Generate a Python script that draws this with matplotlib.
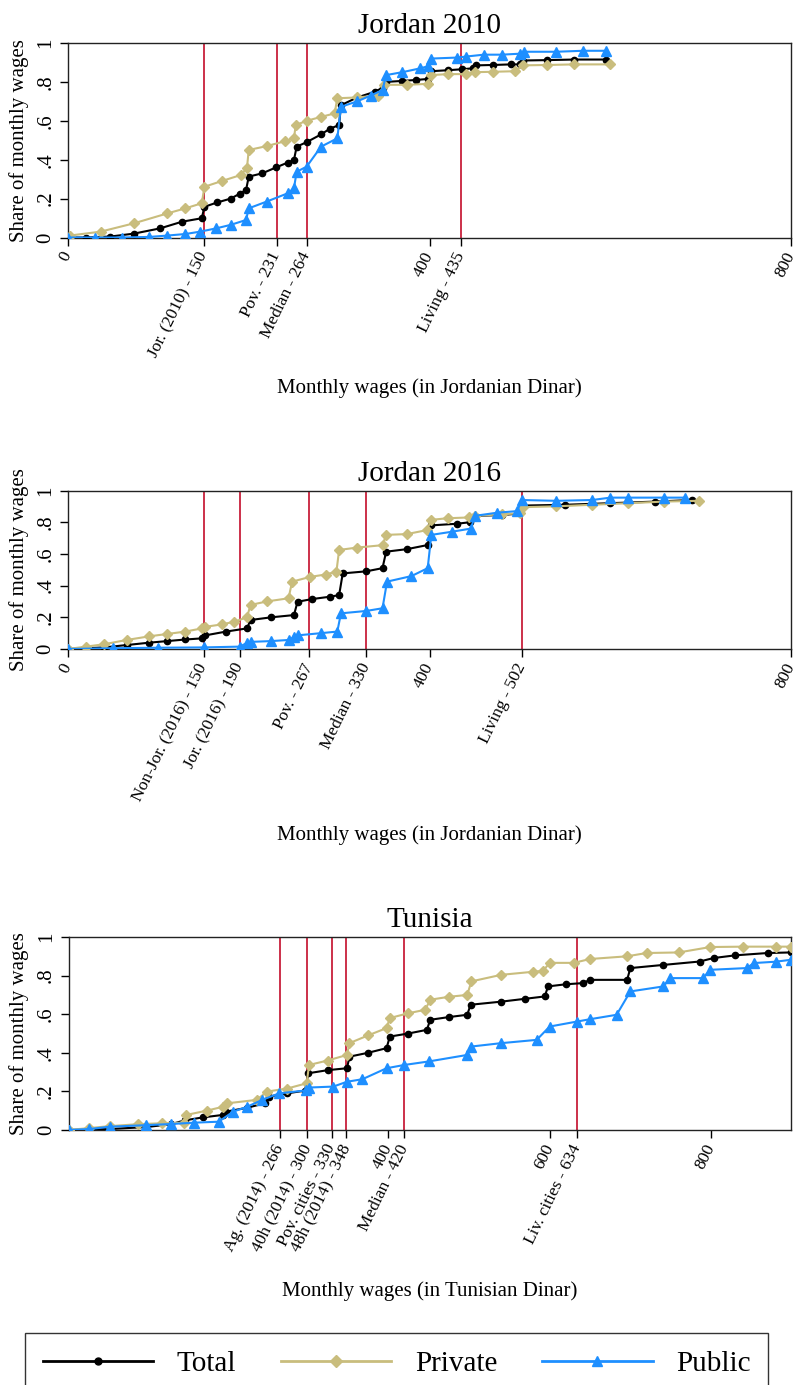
import matplotlib
matplotlib.use("Agg")
import matplotlib.pyplot as plt
from matplotlib.lines import Line2D

plt.rcParams["font.family"] = ["Liberation Serif", "DejaVu Serif"]

# ---------------- data ----------------
# Jordan 2010
j10_tot_w = [0, 20, 47, 73, 102, 126, 148, 151, 165, 180, 190, 197, 200, 215, 230, 243, 250,
             253, 264, 280, 290, 300, 302, 320, 340, 348, 352, 370, 385, 398, 402, 420, 436,
             448, 452, 470, 490, 500, 503, 530, 560, 595]
j10_tot_s = [0, 0, 0.005, 0.02, 0.047, 0.081, 0.099, 0.158, 0.18, 0.2, 0.225, 0.244, 0.313,
             0.33, 0.36, 0.385, 0.398, 0.467, 0.49, 0.53, 0.56, 0.578, 0.68, 0.72, 0.75, 0.77,
             0.80, 0.805, 0.81, 0.815, 0.855, 0.86, 0.865, 0.87, 0.885, 0.887, 0.89, 0.89,
             0.91, 0.912, 0.915, 0.915]
j10_priv_w = [0, 2, 36, 73, 110, 130, 148, 151, 170, 191, 198, 200, 220, 240, 250, 252, 264,
              280, 295, 298, 320, 343, 350, 375, 398, 402, 420, 440, 450, 470, 495, 503, 530,
              560, 600]
j10_priv_s = [0, 0.01, 0.03, 0.073, 0.124, 0.15, 0.176, 0.261, 0.29, 0.321, 0.357, 0.45,
              0.47, 0.495, 0.51, 0.578, 0.6, 0.62, 0.638, 0.716, 0.72, 0.73, 0.785, 0.785,
              0.79, 0.835, 0.84, 0.84, 0.85, 0.852, 0.855, 0.885, 0.887, 0.89, 0.89]
j10_pub_w = [0, 30, 60, 90, 110, 130, 146, 164, 180, 197, 200, 220, 243, 250, 253, 264, 280,
             298, 302, 320, 335, 348, 352, 370, 390, 398, 402, 430, 440, 460, 480, 500, 505,
             540, 570, 595]
j10_pub_s = [0, 0, 0, 0.003, 0.01, 0.018, 0.03, 0.047, 0.065, 0.09, 0.15, 0.185, 0.227,
             0.253, 0.338, 0.364, 0.467, 0.51, 0.672, 0.7, 0.73, 0.758, 0.835, 0.85, 0.87,
             0.88, 0.92, 0.925, 0.93, 0.94, 0.94, 0.945, 0.955, 0.955, 0.96, 0.96]

# Jordan 2016
j16_tot_w = [0, 40, 65, 90, 110, 130, 148, 152, 175, 198, 202, 225, 250, 254, 270, 290, 300,
             304, 330, 348, 352, 375, 398, 402, 430, 445, 450, 480, 500, 504, 550, 600, 650,
             690]
j16_tot_s = [0, 0.01, 0.025, 0.04, 0.05, 0.06, 0.067, 0.086, 0.11, 0.13, 0.183, 0.2, 0.214,
             0.298, 0.315, 0.33, 0.34, 0.477, 0.49, 0.51, 0.614, 0.63, 0.656, 0.78, 0.79, 0.80,
             0.84, 0.845, 0.855, 0.905, 0.91, 0.92, 0.93, 0.94]
j16_priv_w = [0, 20, 40, 65, 90, 110, 130, 148, 152, 170, 184, 198, 202, 220, 244, 248, 268,
              285, 297, 300, 320, 348, 352, 375, 397, 402, 420, 444, 450, 480, 500, 503, 540,
              580, 620, 660, 698]
j16_priv_s = [0, 0.015, 0.03, 0.057, 0.08, 0.095, 0.11, 0.13, 0.14, 0.155, 0.172, 0.2,
              0.278, 0.3, 0.32, 0.425, 0.455, 0.47, 0.488, 0.625, 0.64, 0.655, 0.72, 0.725,
              0.75, 0.815, 0.825, 0.83, 0.84, 0.85, 0.856, 0.895, 0.9, 0.91, 0.92, 0.93, 0.935]
j16_pub_w = [0, 50, 100, 150, 190, 198, 202, 225, 244, 250, 254, 280, 298, 302, 330, 348,
             353, 380, 398, 402, 425, 446, 450, 475, 497, 502, 540, 580, 600, 620, 660, 683]
j16_pub_s = [0, 0.005, 0.008, 0.01, 0.015, 0.038, 0.045, 0.05, 0.057, 0.075, 0.086, 0.1,
             0.11, 0.225, 0.24, 0.257, 0.425, 0.46, 0.51, 0.72, 0.74, 0.76, 0.84, 0.86, 0.87,
             0.94, 0.935, 0.94, 0.955, 0.955, 0.955, 0.955]

# Tunisia
tun_tot_w = [4, 55, 100, 131, 148, 170, 195, 199, 225, 247, 252, 275, 297, 301, 325, 349,
             352, 375, 398, 402, 425, 448, 452, 475, 498, 502, 540, 570, 594, 598, 620, 641,
             650, 696, 700, 740, 786, 803, 830, 870, 899]
tun_tot_s = [0, 0.005, 0.015, 0.03, 0.05, 0.065, 0.078, 0.095, 0.115, 0.138, 0.173, 0.19,
             0.204, 0.294, 0.31, 0.32, 0.38, 0.40, 0.424, 0.484, 0.50, 0.519, 0.571, 0.585,
             0.597, 0.649, 0.665, 0.68, 0.692, 0.744, 0.755, 0.761, 0.778, 0.778, 0.839, 0.855,
             0.873, 0.891, 0.905, 0.917, 0.92]
tun_priv_w = [4, 30, 55, 90, 120, 147, 150, 175, 196, 200, 237, 250, 275, 299, 302, 325, 349,
              352, 375, 398, 402, 425, 446, 452, 475, 498, 503, 540, 580, 592, 600, 630, 650,
              696, 720, 760, 799, 840, 880, 899]
tun_priv_s = [0, 0.01, 0.02, 0.03, 0.035, 0.038, 0.078, 0.1, 0.121, 0.138, 0.156, 0.199,
              0.215, 0.242, 0.337, 0.36, 0.389, 0.45, 0.49, 0.528, 0.58, 0.605, 0.623, 0.675,
              0.69, 0.70, 0.77, 0.804, 0.82, 0.825, 0.866, 0.866, 0.886, 0.9, 0.917, 0.92,
              0.948, 0.95, 0.95, 0.95]
tun_pub_w = [4, 30, 55, 100, 131, 160, 190, 208, 225, 244, 265, 298, 302, 332, 349, 368, 398,
             420, 450, 498, 502, 540, 584, 600, 634, 650, 683, 700, 741, 749, 790, 799, 844,
             853, 880, 899]
tun_pub_s = [0, 0.005, 0.017, 0.025, 0.031, 0.038, 0.043, 0.095, 0.12, 0.156, 0.19, 0.205,
             0.22, 0.225, 0.25, 0.263, 0.32, 0.337, 0.355, 0.389, 0.432, 0.45, 0.467, 0.536,
             0.562, 0.574, 0.597, 0.718, 0.744, 0.787, 0.787, 0.83, 0.839, 0.865, 0.872, 0.882]

j10_lines = [150, 231, 264, 435]
j10_ticks = [0, 150, 231, 264, 400, 435, 800]
j10_labels = ["0", "Jor. (2010) - 150", "Pov. - 231", "Median - 264", "400",
              "Living - 435", "800"]

j16_lines = [150, 190, 267, 330, 502]
j16_ticks = [0, 150, 190, 267, 330, 400, 502, 800]
j16_labels = ["0", "Non-Jor. (2016) - 150", "Jor. (2016) - 190", "Pov. - 267",
              "Median - 330", "400", "Living - 502", "800"]

tun_lines = [266, 300, 330, 348, 420, 634]
tun_ticks = [266, 300, 330, 348, 400, 420, 600, 634, 800]
tun_labels = ["Ag. (2014) - 266", "40h (2014) - 300", "Pov. cities - 330",
              "48h (2014) - 348", "400", "Median - 420", "600", "Liv. cities - 634", "800"]

# ---------------- style ----------------
W, H = 796, 1385
C_TOT = "black"
C_PRIV = "#C9BD7D"
C_PUB = "#1E8FFF"
C_RED = "#C8203C"

fig = plt.figure(figsize=(W / 100, H / 100), dpi=100)


def add_ax(left, top, right, bottom):
    return fig.add_axes([left / W, 1 - bottom / H, (right - left) / W, (bottom - top) / H])


def draw_panel(ax, title, xlabel, xlab_y, series, vlines, ticks, labels, xlim):
    for v in vlines:
        ax.axvline(v, color=C_RED, lw=1.3, zorder=1)
    (tw, ts), (pw, ps), (uw, us) = series
    ax.plot(tw, ts, color=C_TOT, lw=1.5, marker="o", ms=4.5, zorder=3)
    ax.plot(pw, ps, color=C_PRIV, lw=1.5, marker="D", ms=5.5, zorder=4)
    ax.plot(uw, us, color=C_PUB, lw=1.5, marker="^", ms=6.5, zorder=5)
    ax.set_xlim(*xlim)
    ax.set_ylim(0, 1)
    ax.set_yticks([0, 0.2, 0.4, 0.6, 0.8, 1])
    ax.set_yticklabels(["0", ".2", ".4", ".6", ".8", "1"], rotation=90, va="center")
    ax.set_xticks(ticks)
    ax.set_xticklabels(labels, rotation=64, ha="right", va="center",
                       rotation_mode="anchor")
    ax.tick_params(axis="x", length=6, width=1, labelsize=12.5, pad=5)
    ax.tick_params(axis="y", length=6, width=1, labelsize=15, pad=3)
    for s in ax.spines.values():
        s.set_linewidth(1.0)
        s.set_color("#222222")
    pos = ax.get_position()
    xc = (pos.x0 + pos.x1) / 2
    fig.text(xc, pos.y1 + 10 / H, title, ha="center", va="baseline", fontsize=21)
    fig.text(xc, 1 - xlab_y / H, xlabel, ha="center", va="baseline", fontsize=15)
    fig.text(19.5 / W, (pos.y0 + pos.y1) / 2, "Share of monthly wages", rotation=90,
             ha="center", va="center", fontsize=15)


ax1 = add_ax(68, 43, 791, 237.5)
draw_panel(ax1, "Jordan 2010", "Monthly wages (in Jordanian Dinar)", 393,
           [(j10_tot_w, j10_tot_s), (j10_priv_w, j10_priv_s), (j10_pub_w, j10_pub_s)],
           j10_lines, j10_ticks, j10_labels, (0, 800))

ax2 = add_ax(68, 490.5, 791, 649)
draw_panel(ax2, "Jordan 2016", "Monthly wages (in Jordanian Dinar)", 840,
           [(j16_tot_w, j16_tot_s), (j16_priv_w, j16_priv_s), (j16_pub_w, j16_pub_s)],
           j16_lines, j16_ticks, j16_labels, (0, 800))

ax3 = add_ax(68.5, 937, 791, 1130)
draw_panel(ax3, "Tunisia", "Monthly wages (in Tunisian Dinar)", 1296,
           [(tun_tot_w, tun_tot_s), (tun_priv_w, tun_priv_s), (tun_pub_w, tun_pub_s)],
           tun_lines, tun_ticks, tun_labels, (4, 899))

handles = [
    Line2D([], [], color=C_TOT, lw=2, marker="o", ms=5),
    Line2D([], [], color=C_PRIV, lw=2, marker="D", ms=6),
    Line2D([], [], color=C_PUB, lw=2, marker="^", ms=7),
]
leg = fig.legend(handles, ["Total", "Private", "Public"], loc="upper left",
                 bbox_to_anchor=(25 / W, 1 - 1333 / H, 743 / W, 0), mode="expand",
                 ncol=3, fontsize=21, frameon=True, fancybox=False, edgecolor="black",
                 handlelength=3.8, handletextpad=0.8, borderpad=0.6, borderaxespad=0)
leg.get_frame().set_linewidth(1.0)

fig.savefig("out.png", dpi=100)
